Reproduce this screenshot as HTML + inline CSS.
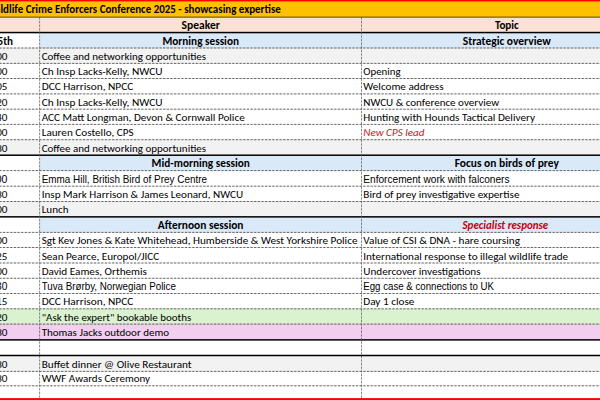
<!DOCTYPE html>
<html lang="en"><head><meta charset="utf-8"><title>Wildlife Crime Enforcers Conference 2025</title>
<style>
html,body{margin:0;padding:0;width:600px;height:400px;overflow:hidden;background:#fff}
svg{font-family:Carlito, 'Liberation Sans', Arial, sans-serif;font-size:11.0px}
text{white-space:pre}
</style></head><body>
<svg width="600" height="400" viewBox="0 0 600 400" font-family="Carlito, 'Liberation Sans', Arial, sans-serif" font-size="11.0" color="#000" style="display:block">
<rect x="0" y="0" width="600" height="400" fill="#FFFFFF"/>
<rect x="0" y="0" width="600" height="1.15" fill="#FF0000"/>
<rect x="0" y="1.15" width="600" height="15.95" fill="#FFC000"/>
<rect x="0" y="17.1" width="600" height="15.45" fill="#FBE2D5"/>
<rect x="0" y="1.15" width="600" height="0.6" fill="#7a6a6a"/>
<rect x="39.6" y="32.55" width="560.40" height="15.45" fill="#DAE9F8"/>
<rect x="0" y="48.0" width="600" height="15.40" fill="#F2F2F2"/>
<rect x="0" y="139.7" width="600" height="15.50" fill="#F2F2F2"/>
<rect x="39.6" y="155.2" width="560.40" height="15.40" fill="#DAE9F8"/>
<rect x="0" y="201.5" width="600" height="15.35" fill="#F2F2F2"/>
<rect x="39.6" y="216.85" width="560.40" height="15.55" fill="#DAE9F8"/>
<rect x="0" y="308.8" width="600" height="15.30" fill="#DAF2D0"/>
<rect x="0" y="324.1" width="600" height="15.80" fill="#F2CEEF"/>
<rect x="0" y="355.5" width="600" height="15.90" fill="#F2F2F2"/>
<rect x="0" y="16.750" width="600" height="0.7" fill="#000"/>
<rect x="0" y="31.800" width="600" height="1.5" fill="#000"/>
<g stroke="#000" stroke-opacity="0.15" stroke-width="0.7">
<line x1="0" y1="48.0" x2="600" y2="48.0"/>
<line x1="0" y1="63.4" x2="600" y2="63.4"/>
<line x1="0" y1="78.5" x2="600" y2="78.5"/>
<line x1="0" y1="93.9" x2="600" y2="93.9"/>
<line x1="0" y1="109.2" x2="600" y2="109.2"/>
<line x1="0" y1="124.4" x2="600" y2="124.4"/>
<line x1="0" y1="139.7" x2="600" y2="139.7"/>
<line x1="0" y1="170.6" x2="600" y2="170.6"/>
<line x1="0" y1="186.2" x2="600" y2="186.2"/>
<line x1="0" y1="201.5" x2="600" y2="201.5"/>
<line x1="0" y1="232.4" x2="600" y2="232.4"/>
<line x1="0" y1="247.5" x2="600" y2="247.5"/>
<line x1="0" y1="263.0" x2="600" y2="263.0"/>
<line x1="0" y1="278.3" x2="600" y2="278.3"/>
<line x1="0" y1="293.5" x2="600" y2="293.5"/>
<line x1="0" y1="308.8" x2="600" y2="308.8"/>
<line x1="0" y1="324.1" x2="600" y2="324.1"/>
<line x1="0" y1="371.4" x2="600" y2="371.4"/>
<line x1="0" y1="385.8" x2="600" y2="385.8"/>
<line x1="39.6" y1="17.5" x2="39.6" y2="400"/>
<line x1="361.5" y1="17.5" x2="361.5" y2="400"/>
</g>
<g stroke="#333" stroke-width="0.7" stroke-dasharray="2.2 1.44" stroke-dashoffset="0.7">
<line x1="0" y1="48.0" x2="600" y2="48.0"/>
<line x1="0" y1="63.4" x2="600" y2="63.4"/>
<line x1="0" y1="78.5" x2="600" y2="78.5"/>
<line x1="0" y1="93.9" x2="600" y2="93.9"/>
<line x1="0" y1="109.2" x2="600" y2="109.2"/>
<line x1="0" y1="124.4" x2="600" y2="124.4"/>
<line x1="0" y1="139.7" x2="600" y2="139.7"/>
<line x1="0" y1="170.6" x2="600" y2="170.6"/>
<line x1="0" y1="186.2" x2="600" y2="186.2"/>
<line x1="0" y1="201.5" x2="600" y2="201.5"/>
<line x1="0" y1="232.4" x2="600" y2="232.4"/>
<line x1="0" y1="247.5" x2="600" y2="247.5"/>
<line x1="0" y1="263.0" x2="600" y2="263.0"/>
<line x1="0" y1="278.3" x2="600" y2="278.3"/>
<line x1="0" y1="293.5" x2="600" y2="293.5"/>
<line x1="0" y1="308.8" x2="600" y2="308.8"/>
<line x1="0" y1="324.1" x2="600" y2="324.1"/>
<line x1="0" y1="371.4" x2="600" y2="371.4"/>
<line x1="0" y1="385.8" x2="600" y2="385.8"/>
</g>
<rect x="0" y="154.450" width="600" height="1.5" fill="#000"/>
<rect x="0" y="216.100" width="600" height="1.5" fill="#000"/>
<rect x="0" y="339.150" width="600" height="1.5" fill="#000"/>
<rect x="0" y="354.750" width="600" height="1.5" fill="#000"/>
<g stroke="#5a5a5a" stroke-width="0.7" stroke-dasharray="2.1 1.5">
<line x1="39.6" y1="17.5" x2="39.6" y2="400"/>
<line x1="361.5" y1="17.5" x2="361.5" y2="400"/>
</g>
<rect x="0" y="398.1" width="600" height="1.9" fill="#FF0000"/>
<text x="-12.2" y="12.9" font-size="11.3" font-weight="700" textLength="293" lengthAdjust="spacingAndGlyphs">Wildlife Crime Enforcers Conference 2025 - showcasing expertise</text>
<text x="200.7" y="28.649999999999995" font-size="11.3" font-weight="700" text-anchor="middle" textLength="38.21" lengthAdjust="spacingAndGlyphs">Speaker</text>
<text x="506.8" y="28.649999999999995" font-size="11.3" font-weight="700" text-anchor="middle" textLength="23.83" lengthAdjust="spacingAndGlyphs">Topic</text>
<text x="13.0" y="44.7" font-size="11.3" font-weight="700" text-anchor="end" textLength="44.45" lengthAdjust="spacingAndGlyphs">Tues 15th</text>
<text x="200.7" y="44.7" font-size="11.3" font-weight="700" text-anchor="middle" textLength="76.52" lengthAdjust="spacingAndGlyphs">Morning session</text>
<text x="506.8" y="44.7" font-size="11.3" font-weight="700" text-anchor="middle" textLength="88.08" lengthAdjust="spacingAndGlyphs">Strategic overview</text>
<text x="7.4" y="59.9" text-anchor="end" textLength="25.47" lengthAdjust="spacingAndGlyphs">08:00</text>
<text x="41.7" y="59.9" textLength="164.38" lengthAdjust="spacingAndGlyphs">Coffee and networking opportunities</text>
<text x="7.4" y="75.0" text-anchor="end" textLength="25.47" lengthAdjust="spacingAndGlyphs">09:00</text>
<text x="41.7" y="75.0" textLength="120.83" lengthAdjust="spacingAndGlyphs">Ch Insp Lacks-Kelly, NWCU</text>
<text x="363.3" y="75.0" textLength="37.33" lengthAdjust="spacingAndGlyphs">Opening</text>
<text x="7.4" y="90.4" text-anchor="end" textLength="25.47" lengthAdjust="spacingAndGlyphs">09:05</text>
<text x="41.7" y="90.4" textLength="91.59" lengthAdjust="spacingAndGlyphs">DCC Harrison, NPCC</text>
<text x="363.3" y="90.4" textLength="80.27" lengthAdjust="spacingAndGlyphs">Welcome address</text>
<text x="7.4" y="105.7" text-anchor="end" textLength="25.47" lengthAdjust="spacingAndGlyphs">09:20</text>
<text x="41.7" y="105.7" textLength="120.83" lengthAdjust="spacingAndGlyphs">Ch Insp Lacks-Kelly, NWCU</text>
<text x="363.3" y="105.7" textLength="135.81" lengthAdjust="spacingAndGlyphs">NWCU &amp; conference overview</text>
<text x="7.4" y="120.9" text-anchor="end" textLength="25.47" lengthAdjust="spacingAndGlyphs">09:40</text>
<text x="41.7" y="120.9" textLength="203.0" lengthAdjust="spacingAndGlyphs">ACC Matt Longman, Devon &amp; Cornwall Police</text>
<text x="363.3" y="120.9" textLength="171.73" lengthAdjust="spacingAndGlyphs">Hunting with Hounds Tactical Delivery</text>
<text x="7.4" y="136.2" text-anchor="end" textLength="25.47" lengthAdjust="spacingAndGlyphs">10:00</text>
<text x="41.7" y="136.2" textLength="91.95" lengthAdjust="spacingAndGlyphs">Lauren Costello, CPS</text>
<text x="363.3" y="136.2" font-style="italic" fill="#D0101E" color="#D0101E" textLength="61.12" lengthAdjust="spacingAndGlyphs">New CPS lead</text>
<text x="7.4" y="151.7" text-anchor="end" textLength="25.47" lengthAdjust="spacingAndGlyphs">10:30</text>
<text x="41.7" y="151.7" textLength="164.38" lengthAdjust="spacingAndGlyphs">Coffee and networking opportunities</text>
<text x="200.7" y="167.3" font-size="11.3" font-weight="700" text-anchor="middle" textLength="98.21" lengthAdjust="spacingAndGlyphs">Mid-morning session</text>
<text x="506.8" y="167.3" font-size="11.3" font-weight="700" text-anchor="middle" textLength="104.25" lengthAdjust="spacingAndGlyphs">Focus on birds of prey</text>
<text x="7.4" y="182.7" font-family="'Liberation Sans', Arial, sans-serif" font-size="10.6" text-anchor="end" textLength="25.47" lengthAdjust="spacingAndGlyphs">11:00</text>
<text x="41.7" y="182.7" font-family="'Liberation Sans', Arial, sans-serif" font-size="10.6" textLength="165.33" lengthAdjust="spacingAndGlyphs">Emma Hill, British Bird of Prey Centre</text>
<text x="363.3" y="182.7" font-family="'Liberation Sans', Arial, sans-serif" font-size="10.6" textLength="146.21" lengthAdjust="spacingAndGlyphs">Enforcement work with falconers</text>
<text x="7.4" y="198.0" text-anchor="end" textLength="25.47" lengthAdjust="spacingAndGlyphs">11:30</text>
<text x="41.7" y="198.0" textLength="201.36" lengthAdjust="spacingAndGlyphs">Insp Mark Harrison &amp; James Leonard, NWCU</text>
<text x="363.3" y="198.0" textLength="156.17" lengthAdjust="spacingAndGlyphs">Bird of prey investigative expertise</text>
<text x="7.4" y="213.35" text-anchor="end" textLength="25.47" lengthAdjust="spacingAndGlyphs">12:00</text>
<text x="41.7" y="213.35" textLength="26.84" lengthAdjust="spacingAndGlyphs">Lunch</text>
<text x="200.7" y="229.1" font-size="11.3" font-weight="700" text-anchor="middle" textLength="85.62" lengthAdjust="spacingAndGlyphs">Afternoon session</text>
<text x="505.4" y="229.1" font-size="11.3" font-weight="700" font-style="italic" text-anchor="middle" fill="#C4000E" color="#C4000E" textLength="85.77" lengthAdjust="spacingAndGlyphs">Specialist response</text>
<text x="7.4" y="244.0" text-anchor="end" textLength="25.47" lengthAdjust="spacingAndGlyphs">13:00</text>
<text x="41.7" y="244.0" textLength="315.76" lengthAdjust="spacingAndGlyphs">Sgt Kev Jones &amp; Kate Whitehead, Humberside &amp; West Yorkshire Police</text>
<text x="363.3" y="244.0" textLength="156.64" lengthAdjust="spacingAndGlyphs">Value of CSI &amp; DNA - hare coursing</text>
<text x="7.4" y="259.5" text-anchor="end" textLength="25.47" lengthAdjust="spacingAndGlyphs">13:25</text>
<text x="41.7" y="259.5" textLength="117.56" lengthAdjust="spacingAndGlyphs">Sean Pearce, Europol/JICC</text>
<text x="363.3" y="259.5" textLength="204.84" lengthAdjust="spacingAndGlyphs">International response to illegal wildlife trade</text>
<text x="7.4" y="274.8" text-anchor="end" textLength="25.47" lengthAdjust="spacingAndGlyphs">14:00</text>
<text x="41.7" y="274.8" textLength="105.32" lengthAdjust="spacingAndGlyphs">David Eames, Orthemis</text>
<text x="363.3" y="274.8" textLength="117.24" lengthAdjust="spacingAndGlyphs">Undercover investigations</text>
<text x="7.4" y="290.0" font-family="'Liberation Sans', Arial, sans-serif" font-size="10.6" text-anchor="end" textLength="25.47" lengthAdjust="spacingAndGlyphs">14:30</text>
<text x="41.7" y="290.0" font-family="'Liberation Sans', Arial, sans-serif" font-size="10.6" textLength="134.14" lengthAdjust="spacingAndGlyphs">Tuva Brørby, Norwegian Police</text>
<text x="363.3" y="290.0" font-family="'Liberation Sans', Arial, sans-serif" font-size="10.6" textLength="130.6" lengthAdjust="spacingAndGlyphs">Egg case &amp; connections to UK</text>
<text x="7.4" y="305.3" text-anchor="end" textLength="25.47" lengthAdjust="spacingAndGlyphs">15:15</text>
<text x="41.7" y="305.3" textLength="91.59" lengthAdjust="spacingAndGlyphs">DCC Harrison, NPCC</text>
<text x="363.3" y="305.3" textLength="51.15" lengthAdjust="spacingAndGlyphs">Day 1 close</text>
<text x="7.4" y="320.6" text-anchor="end" textLength="25.47" lengthAdjust="spacingAndGlyphs">15:20</text>
<text x="41.7" y="320.6" textLength="149.49" lengthAdjust="spacingAndGlyphs">&quot;Ask the expert&quot; bookable booths</text>
<text x="7.4" y="336.4" text-anchor="end" textLength="25.47" lengthAdjust="spacingAndGlyphs">15:30</text>
<text x="41.7" y="336.4" textLength="127.29" lengthAdjust="spacingAndGlyphs">Thomas Jacks outdoor demo</text>
<text x="7.4" y="367.9" text-anchor="end" textLength="25.47" lengthAdjust="spacingAndGlyphs">19:30</text>
<text x="41.7" y="367.9" textLength="149.96" lengthAdjust="spacingAndGlyphs">Buffet dinner @ Olive Restaurant</text>
<text x="7.4" y="382.3" text-anchor="end" textLength="25.47" lengthAdjust="spacingAndGlyphs">20:30</text>
<text x="41.7" y="382.3" textLength="108.41" lengthAdjust="spacingAndGlyphs">WWF Awards Ceremony</text>
</svg>
</body></html>
